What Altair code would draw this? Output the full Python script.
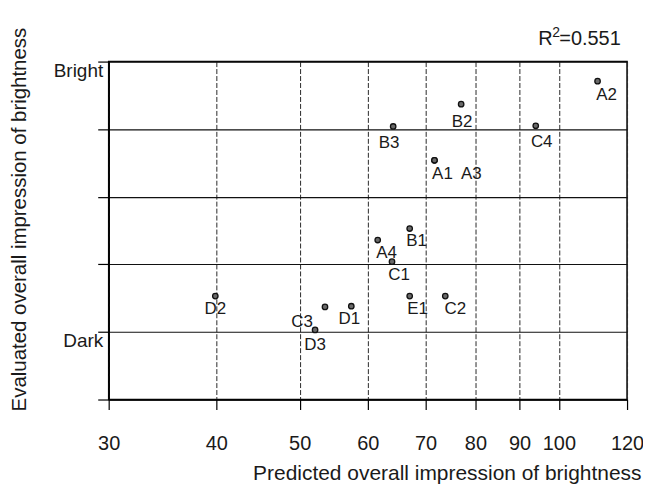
import altair as alt
import pandas as pd

# ---- data ----
labels = ["A1", "A2", "A3", "A4", "B1", "B2", "B3", "C1", "C2", "C3", "C4", "D1", "D2", "D3", "E1"]
predicted = [71.7, 110.9, 71.7, 61.6, 67.1, 77.0, 64.2, 64.0, 73.8, 53.5, 94.0, 57.4, 39.9, 52.1, 67.1]
evaluated = [3.54, 4.71, 3.54, 2.36, 2.53, 4.37, 4.04, 2.04, 1.53, 1.37, 4.05, 1.38, 1.53, 1.03, 1.53]

# label nudges (pixels) relative to each point
label_dx = [8, 9, 37, 9, 7, 1, -4, 7, 10, -23, 6, -2, 0, 0, 8]
label_dy = [14, 14, 14, 13, 13, 18, 17, 13, 13, 15, 16, 13, 13, 15, 13]

x_ticks = [30, 40, 50, 60, 70, 80, 90, 100, 120]
y_ticks = [0, 1, 2, 3, 4, 5]
y_tick_names = {"Bright": 5, "Dark": 1}
x_title = "Predicted overall impression of brightness"
y_title = "Evaluated overall impression of brightness"
r2_parts = ["R", "2", "=0.551"]

FONT = "Liberation Sans"
INK = "#1a1a1a"

df = pd.DataFrame({"label": labels, "predicted": predicted, "evaluated": evaluated})

label_expr = "datum.value == %d ? 'Bright' : datum.value == %d ? 'Dark' : ''" % (
    y_tick_names["Bright"], y_tick_names["Dark"])

x_enc = alt.X(
    "predicted:Q",
    scale=alt.Scale(type="log", domain=[30, 120], nice=False),
    axis=alt.Axis(
        values=x_ticks, title=x_title, grid=True, gridDash=[5, 2],
        gridColor="#2a2a2a", gridWidth=1, tickSize=10, labelPadding=24,
        labelFontSize=20, labelFlush=False, format="d",
        titleFontSize=21, titleX=534, titleY=80, titleAlign="right",
        titleAnchor="end", titleBaseline="alphabetic",
    ),
)
y_enc = alt.Y(
    "evaluated:Q",
    scale=alt.Scale(domain=[0, 5], nice=False, zero=False),
    axis=alt.Axis(
        values=y_ticks, labelExpr=label_expr, title=y_title, grid=True,
        gridColor="#111111", gridWidth=1.1, tickSize=11, labelPadding=-5,
        labelFontSize=19, labelBaseline="top", labelAlign="right",
        labelFlush=False, titleFontSize=20.5, titleX=-79, titleY=158,
    ),
)

points = alt.Chart(df).mark_circle(
    size=30, fill="#6a6a6a", stroke="#111111", strokeWidth=1.3, opacity=1
).encode(x=x_enc, y=y_enc)

layers = [points]
for lab, dx, dy in zip(labels, label_dx, label_dy):
    layers.append(
        alt.Chart(df)
        .transform_filter(alt.datum.label == lab)
        .mark_text(dx=dx, dy=dy, font=FONT, fontSize=17, color=INK,
                   align="center", baseline="middle")
        .encode(x=x_enc, y=y_enc, text="label:N")
    )

ann = pd.DataFrame({"t": [0]})
layers.append(alt.Chart(ann).mark_text(font=FONT, fontSize=20, color=INK, align="left",
                                       baseline="alphabetic").encode(
    x=alt.value(431), y=alt.value(-17), text=alt.value(r2_parts[0])))
layers.append(alt.Chart(ann).mark_text(font=FONT, fontSize=14, color=INK, align="left",
                                       baseline="alphabetic").encode(
    x=alt.value(445), y=alt.value(-25), text=alt.value(r2_parts[1])))
layers.append(alt.Chart(ann).mark_text(font=FONT, fontSize=20, color=INK, align="left",
                                       baseline="alphabetic").encode(
    x=alt.value(452), y=alt.value(-17), text=alt.value(r2_parts[2])))

chart = (
    alt.layer(*layers)
    .properties(
        width=520, height=339,
        padding={"left": 101, "top": 53, "right": 16, "bottom": 84},
        autosize=alt.AutoSizeParams(type="none"),
        background="white",
    )
    .configure_axis(
        labelFont=FONT, titleFont=FONT, labelColor=INK, titleColor=INK,
        titleFontWeight="normal", domainColor="black", domainWidth=1.5,
        tickColor="black", tickWidth=1.2,
    )
    .configure_view(stroke="black", strokeWidth=1.5)
)

chart.save("out.html", embed_options={"renderer": "svg", "actions": False})
